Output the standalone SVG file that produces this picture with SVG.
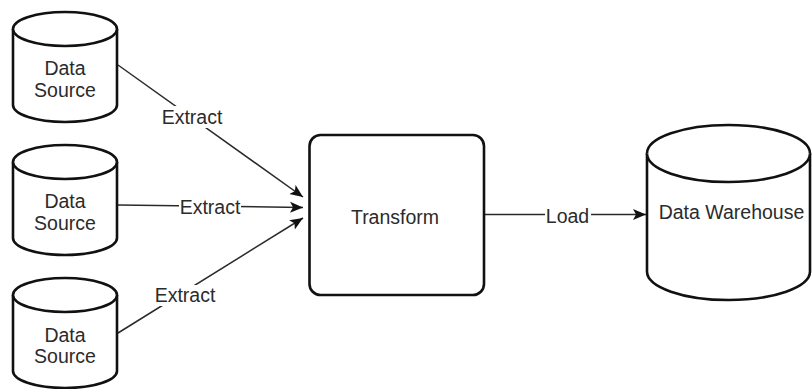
<svg xmlns="http://www.w3.org/2000/svg" width="812" height="389" viewBox="0 0 812 389">
  <style>
    .shape { fill: #ffffff; stroke: #111111; stroke-width: 2.6; }
    .edge { fill: none; stroke: #2a2a2a; stroke-width: 1.5; }
    .label { font-family: "Liberation Sans", Arial, sans-serif; font-size: 19.5px; fill: #2b2b2b; text-anchor: middle; }
    .lblbg { fill: #ffffff; }
  </style>
  <defs>
    <marker id="arrow" markerUnits="userSpaceOnUse" markerWidth="14" markerHeight="12" refX="13" refY="6" orient="auto">
      <path d="M0,0.5 L13,6 L0,11.5 L3,6 Z" fill="#111111"/>
    </marker>
  </defs>

  <rect width="812" height="389" fill="#ffffff"/>

  <!-- connectors -->
  <g id="connectors">
    <line class="edge" x1="118" y1="65" x2="303" y2="197" marker-end="url(#arrow)"/>
    <line class="edge" x1="118" y1="205" x2="303" y2="207.5" marker-end="url(#arrow)"/>
    <line class="edge" x1="118" y1="333" x2="303" y2="218" marker-end="url(#arrow)"/>
    <line class="edge" x1="484" y1="214.5" x2="646" y2="214.5" marker-end="url(#arrow)"/>

    <rect class="lblbg" x="160" y="106" width="64" height="22"/>
    <text class="label" x="192" y="124">Extract</text>

    <rect class="lblbg" x="179" y="198" width="62" height="20"/>
    <text class="label" x="210" y="214">Extract</text>

    <rect class="lblbg" x="153" y="285" width="64" height="21"/>
    <text class="label" x="185" y="302">Extract</text>

    <rect class="lblbg" x="545" y="206" width="46" height="20"/>
    <text class="label" x="567.5" y="222.5">Load</text>
  </g>

  <!-- source databases -->
  <g id="source1">
    <path class="shape" d="M13,29 A52,17 0 0,1 117,29 L117,105 A52,17 0 0,1 13,105 Z"/>
    <path class="shape" fill="none" d="M13,29 A52,17 0 0,0 117,29"/>
    <text class="label" x="65" y="75">Data</text>
    <text class="label" x="65" y="96.5">Source</text>
  </g>

  <g id="source2">
    <path class="shape" d="M13,162 A52,17 0 0,1 117,162 L117,238 A52,17 0 0,1 13,238 Z"/>
    <path class="shape" fill="none" d="M13,162 A52,17 0 0,0 117,162"/>
    <text class="label" x="65" y="208">Data</text>
    <text class="label" x="65" y="229.5">Source</text>
  </g>

  <g id="source3">
    <path class="shape" d="M13,295 A52,17 0 0,1 117,295 L117,371 A52,17 0 0,1 13,371 Z"/>
    <path class="shape" fill="none" d="M13,295 A52,17 0 0,0 117,295"/>
    <text class="label" x="65" y="341.5">Data</text>
    <text class="label" x="65" y="363">Source</text>
  </g>

  <!-- transform step -->
  <g id="transform">
    <rect class="shape" x="309.5" y="135" width="174.5" height="160" rx="11" ry="11"/>
    <text class="label" x="395" y="223.5">Transform</text>
  </g>

  <!-- warehouse -->
  <g id="warehouse">
    <path class="shape" d="M647,153.5 A81.5,28.5 0 0,1 810,153.5 L810,271.5 A81.5,28.5 0 0,1 647,271.5 Z"/>
    <path class="shape" fill="none" d="M647,153.5 A81.5,28.5 0 0,0 810,153.5"/>
    <text class="label" x="731.5" y="219">Data Warehouse</text>
  </g>
</svg>
